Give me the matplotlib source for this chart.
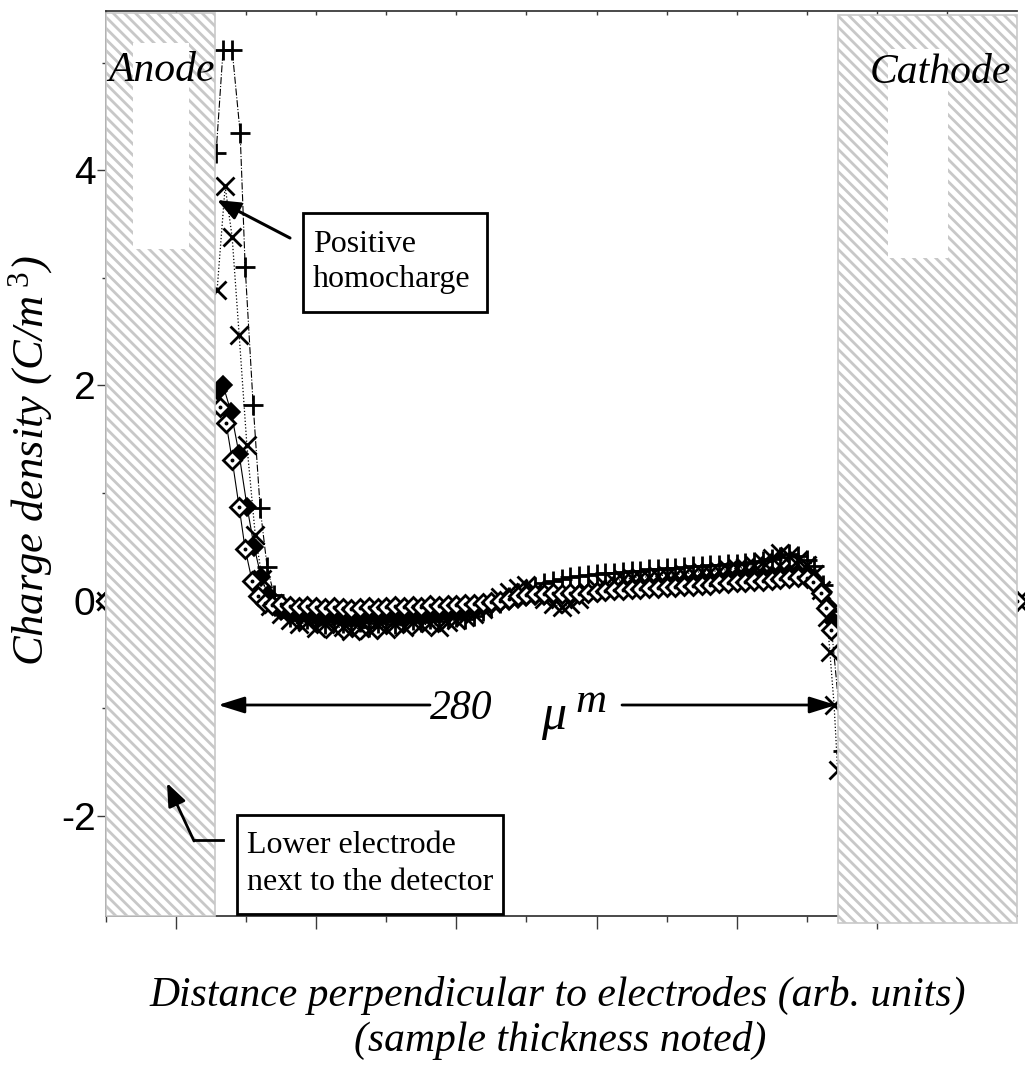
import numpy as np
import matplotlib
matplotlib.use("Agg")
import matplotlib.pyplot as plt
from matplotlib.patches import Rectangle
from matplotlib.lines import Line2D

# ---------------- data ----------------
EDGE_X = [0.0, 13.0]          # series start / end (value 0 inside electrodes)
EDGE_Y = [0.0, 0.0]
BODY_X0, BODY_DX = 2.5, 0.125  # sampling grid of the bulk region

# series A  (+, dash-dot)
A_head_x = [1.571, 1.671, 1.80, 1.914, 1.986, 2.10, 2.20, 2.30, 2.40]
A_head_y = [4.16, 5.12, 5.12, 4.35, 3.10, 1.82, 0.86, 0.31, 0.05]
A_body = [-0.08, -0.15, -0.18, -0.17, -0.20, -0.22, -0.19, -0.21, -0.23, -0.20,
          -0.24, -0.21, -0.19, -0.22, -0.20, -0.18, -0.20, -0.17, -0.19, -0.16,
          -0.15, -0.17, -0.14, -0.10, -0.06, -0.02, 0.03, 0.07, 0.10, 0.13,
          0.16, 0.18, 0.20, 0.22, 0.23, 0.24, 0.25, 0.26, 0.26, 0.27,
          0.28, 0.28, 0.29, 0.29, 0.30, 0.30, 0.31, 0.32, 0.32, 0.33,
          0.33, 0.34, 0.34, 0.35, 0.36, 0.37, 0.39, 0.41, 0.43, 0.42,
          0.38]
A_tail_x = [10.11, 10.23, 10.33, 10.52]
A_tail_y = [0.32, 0.15, -0.10, -1.40]

# series B  (x, dotted)
B_head_x = [1.586, 1.70, 1.80, 1.90, 2.01, 2.13, 2.23, 2.34]
B_head_y = [2.89, 3.85, 3.38, 2.47, 1.45, 0.61, 0.20, -0.05]
B_body = [-0.12, -0.18, -0.22, -0.20, -0.25, -0.22, -0.26, -0.24, -0.28, -0.25,
          -0.27, -0.23, -0.26, -0.22, -0.24, -0.20, -0.23, -0.21, -0.24, -0.20,
          -0.18, -0.15, -0.12, -0.08, -0.02, 0.03, 0.08, 0.12, 0.15, 0.10,
          0.02, -0.03, -0.06, -0.03, 0.02, 0.08, 0.12, 0.15, 0.18, 0.20,
          0.21, 0.22, 0.22, 0.23, 0.24, 0.24, 0.25, 0.26, 0.27, 0.27,
          0.28, 0.29, 0.30, 0.31, 0.33, 0.36, 0.40, 0.44, 0.42, 0.38,
          0.33]
B_tail_x = [10.11, 10.21, 10.29, 10.33, 10.39, 10.44]
B_tail_y = [0.25, 0.10, -0.15, -0.48, -0.97, -1.57]

# series C  (filled diamond, solid)
C_head_x = [1.60, 1.671, 1.786, 1.90, 2.014, 2.114, 2.214, 2.314, 2.414]
C_head_y = [1.95, 2.00, 1.75, 1.36, 0.87, 0.50, 0.22, 0.05, -0.06]
C_body = [-0.10, -0.12, -0.13, -0.13, -0.14, -0.15, -0.14, -0.15, -0.16, -0.15,
          -0.14, -0.15, -0.14, -0.13, -0.14, -0.12, -0.13, -0.11, -0.12, -0.10,
          -0.10, -0.09, -0.08, -0.06, -0.04, -0.02, 0.00, 0.02, 0.03, 0.04,
          0.04, 0.05, 0.05, 0.06, 0.06, 0.07, 0.08, 0.09, 0.10, 0.11,
          0.12, 0.13, 0.14, 0.14, 0.15, 0.16, 0.16, 0.17, 0.18, 0.18,
          0.19, 0.20, 0.20, 0.21, 0.22, 0.23, 0.24, 0.25, 0.26, 0.26,
          0.25]
C_tail_x = [10.11, 10.23, 10.31, 10.39]
C_tail_y = [0.20, 0.08, -0.05, -0.20]

# series D  (open diamond with dot, solid)
D_head_x = [1.629, 1.714, 1.80, 1.90, 1.986, 2.086, 2.171, 2.271, 2.371]
D_head_y = [1.80, 1.65, 1.31, 0.87, 0.48, 0.18, 0.04, -0.02, -0.04]
D_body = [-0.03, -0.05, -0.06, -0.05, -0.06, -0.07, -0.06, -0.07, -0.08, -0.07,
          -0.06, -0.07, -0.06, -0.05, -0.06, -0.05, -0.06, -0.04, -0.05, -0.04,
          -0.04, -0.03, -0.03, -0.02, -0.01, 0.00, 0.02, 0.04, 0.05, 0.06,
          0.06, 0.07, 0.06, 0.07, 0.06, 0.07, 0.08, 0.09, 0.10, 0.10,
          0.11, 0.11, 0.12, 0.12, 0.13, 0.13, 0.14, 0.14, 0.15, 0.15,
          0.16, 0.16, 0.17, 0.17, 0.18, 0.18, 0.19, 0.20, 0.21, 0.22,
          0.21]
D_tail_x = [10.086, 10.20, 10.27, 10.34]
D_tail_y = [0.17, 0.07, -0.07, -0.27]

Y_TICKS = [-2, 0, 2, 4]
Y_TICK_LABELS = ["-2", "0", "2", "4"]
Y_MINOR = [-1, 1, 3, 5]
X_MAJOR = [1, 3, 5, 7, 9, 11]
X_MINOR = [0, 2, 4, 6, 8, 10, 12]

# ---------------- figure ----------------
plt.rcParams["hatch.linewidth"] = 2.0
plt.rcParams["hatch.color"] = "#c8c8c8"
plt.rcParams["mathtext.fontset"] = "custom"
plt.rcParams["mathtext.rm"] = "Liberation Serif"
plt.rcParams["mathtext.it"] = "Liberation Serif:italic"

W, H = 1025, 1068
fig = plt.figure(figsize=(W / 100, H / 100), dpi=100)
L, R, T, B = 106, 1017, 11, 916
ax = fig.add_axes([L / W, 1 - B / H, (R - L) / W, (B - T) / H])
XMIN, XMAX = 0.0, 13.0
YMIN, YMAX = -2.93, 5.48


def F(px, py):
    return (px / W, 1 - py / H)


def Dc(px, py):
    return (XMIN + (px - L) / (R - L) * (XMAX - XMIN),
            YMAX - (py - T) / (B - T) * (YMAX - YMIN))


def build(hx, hy, body, tx, ty):
    bx = list(BODY_X0 + BODY_DX * np.arange(len(body)))
    x = [EDGE_X[0]] + hx + bx + tx + [EDGE_X[1]]
    y = [EDGE_Y[0]] + hy + body + ty + [EDGE_Y[1]]
    return np.array(x), np.array(y)


xa, ya = build(A_head_x, A_head_y, A_body, A_tail_x, A_tail_y)
xb, yb = build(B_head_x, B_head_y, B_body, B_tail_x, B_tail_y)
xc, yc = build(C_head_x, C_head_y, C_body, C_tail_x, C_tail_y)
xd, yd = build(D_head_x, D_head_y, D_body, D_tail_x, D_tail_y)

ax.plot(xa, ya, color="k", ls="-.", lw=0.8, marker="+", ms=14, mew=2.0,
        clip_on=False, zorder=2.0)
ax.plot(xb, yb, color="k", ls=":", lw=0.9, marker="x", ms=12.5, mew=2.0,
        clip_on=False, zorder=2.1)
ax.plot(xc, yc, color="k", ls="-", lw=0.8, marker="D", ms=9.5, mfc="k",
        mec="k", mew=1.2, clip_on=False, zorder=2.2)
ax.plot(xd, yd, color="k", ls="-", lw=0.8, marker="D", ms=9.5, mfc="w",
        mec="k", mew=2.0, clip_on=False, zorder=2.3)
ax.plot(xd, yd, ls="none", marker="o", ms=1.8, color="k",
        clip_on=False, zorder=2.4)

# axes styling (ticks first, then fix limits)
ax.spines["right"].set_visible(False)
for s in ("left", "bottom", "top"):
    ax.spines[s].set_color("#3a3a3a")
    ax.spines[s].set_linewidth(1.3)
ax.set_yticks(Y_TICKS)
ax.set_yticklabels(Y_TICK_LABELS, family="Liberation Sans", fontsize=28)
ax.set_yticks(Y_MINOR, minor=True)
ax.set_xticks(X_MAJOR)
ax.set_xticks(X_MINOR, minor=True)
ax.set_xticklabels([])
ax.set_xlim(XMIN, XMAX)
ax.set_ylim(YMIN, YMAX)
ax.tick_params(axis="y", which="major", length=6.5, width=1.0, pad=1,
               direction="out", colors="#3a3a3a", labelcolor="k")
ax.tick_params(axis="y", which="minor", length=3, width=1.0, direction="out",
               colors="#3a3a3a")
ax.tick_params(axis="x", which="major", length=9, width=1.0, direction="out",
               colors="#3a3a3a")
ax.tick_params(axis="x", which="minor", length=4, width=1.0, direction="out",
               colors="#3a3a3a")
sec = ax.secondary_xaxis("top")
sec.set_xticks(sorted(X_MAJOR + X_MINOR))
sec.tick_params(direction="in", length=3, width=1.0, labeltop=False,
                colors="#3a3a3a")
sec.spines["top"].set_visible(False)


# electrodes
def electrode(p0, p1, w0, w1):
    (x0, y1), (x1, y0) = Dc(*p0), Dc(*p1)
    ax.add_patch(Rectangle((x0, y0), x1 - x0, y1 - y0, facecolor="white",
                           edgecolor="#c8c8c8", hatch="\\\\\\", lw=1.2,
                           clip_on=False, zorder=3))
    (u0, v1), (u1, v0) = Dc(*w0), Dc(*w1)
    ax.add_patch(Rectangle((u0, v0), u1 - u0, v1 - v0, facecolor="white",
                           edgecolor="none", clip_on=False, zorder=3.1))


electrode((106, 13), (215, 916), (133, 43), (189, 249))
electrode((838, 15), (1017, 923), (888, 49), (948, 258))
ax.set_xlim(XMIN, XMAX)
ax.set_ylim(YMIN, YMAX)

serif_it = dict(family="Liberation Serif", style="italic", color="k")
serif = dict(family="Liberation Serif", color="k")

# electrode names
fig.text(*F(108, 81), "Anode", fontsize=30, ha="left", va="baseline",
         zorder=10, **serif_it)
fig.text(*F(870, 83), "Cathode", fontsize=30, ha="left", va="baseline",
         zorder=10, **serif_it)

# positive homocharge box
fig.add_artist(Rectangle(F(303, 312), (487 - 303) / W, (312 - 213) / H,
                         transform=fig.transFigure, facecolor="white",
                         edgecolor="k", lw=2.0, zorder=9))
fig.text(*F(313, 252), "Positive", fontsize=23, ha="left", va="baseline",
         zorder=10, **serif)
fig.text(*F(313, 287), "homocharge", fontsize=23, ha="left", va="baseline",
         zorder=10, **serif)
ax.annotate("", xy=F(217, 200), xytext=F(290, 238),
            xycoords="figure fraction", textcoords="figure fraction",
            annotation_clip=False, zorder=10,
            arrowprops=dict(arrowstyle="-|>,head_length=0.7,head_width=0.28",
                            mutation_scale=20, lw=2.2, color="k",
                            shrinkA=0, shrinkB=0))

# lower electrode box
fig.add_artist(Rectangle(F(237, 914), (503 - 237) / W, (914 - 815) / H,
                         transform=fig.transFigure, facecolor="white",
                         edgecolor="k", lw=2.0, zorder=9))
fig.text(*F(247, 853), "Lower electrode", fontsize=23, ha="left",
         va="baseline", zorder=10, **serif)
fig.text(*F(247, 890), "next to the detector", fontsize=23, ha="left",
         va="baseline", zorder=10, **serif)
fig.add_artist(Line2D([F(223, 840)[0], F(194, 840)[0]],
                      [F(223, 840)[1], F(194, 840)[1]],
                      transform=fig.transFigure, color="k", lw=2.0, zorder=10))
ax.annotate("", xy=F(167, 783), xytext=F(194, 841),
            xycoords="figure fraction", textcoords="figure fraction",
            annotation_clip=False, zorder=10,
            arrowprops=dict(arrowstyle="-|>,head_length=0.7,head_width=0.28",
                            mutation_scale=20, lw=2.0, color="k",
                            shrinkA=0, shrinkB=0))

# thickness arrow
for x_from, x_to in ((430, 218), (622, 836)):
    ax.annotate("", xy=F(x_to, 705), xytext=F(x_from, 705),
                xycoords="figure fraction", textcoords="figure fraction",
                annotation_clip=False, zorder=10,
                arrowprops=dict(arrowstyle="-|>,head_length=0.8,head_width=0.25",
                                mutation_scale=20, lw=2.0, color="k",
                                shrinkA=0, shrinkB=0))
fig.text(*F(461, 719), "280", fontsize=30, ha="center", va="baseline",
         zorder=10, **serif_it)
fig.text(*F(554, 729), "\u03bc", fontsize=36, ha="center", va="baseline",
         zorder=10, **serif_it)
fig.text(*F(591, 712), "m", fontsize=31, ha="center", va="baseline",
         zorder=10, **serif_it)

# axis labels
fig.text(*F(31, 461), "Charge density (C/m$^{\\ \\mathit{3}}$)", fontsize=32,
         rotation=90, ha="center", va="center", **serif_it)
fig.text(*F(558, 995), "Distance perpendicular to electrodes (arb. units)",
         fontsize=30, ha="center", va="center", **serif_it)
fig.text(*F(560, 1040), "(sample thickness noted)", fontsize=30,
         ha="center", va="center", **serif_it)

fig.savefig("out.png", dpi=100, facecolor="white")
